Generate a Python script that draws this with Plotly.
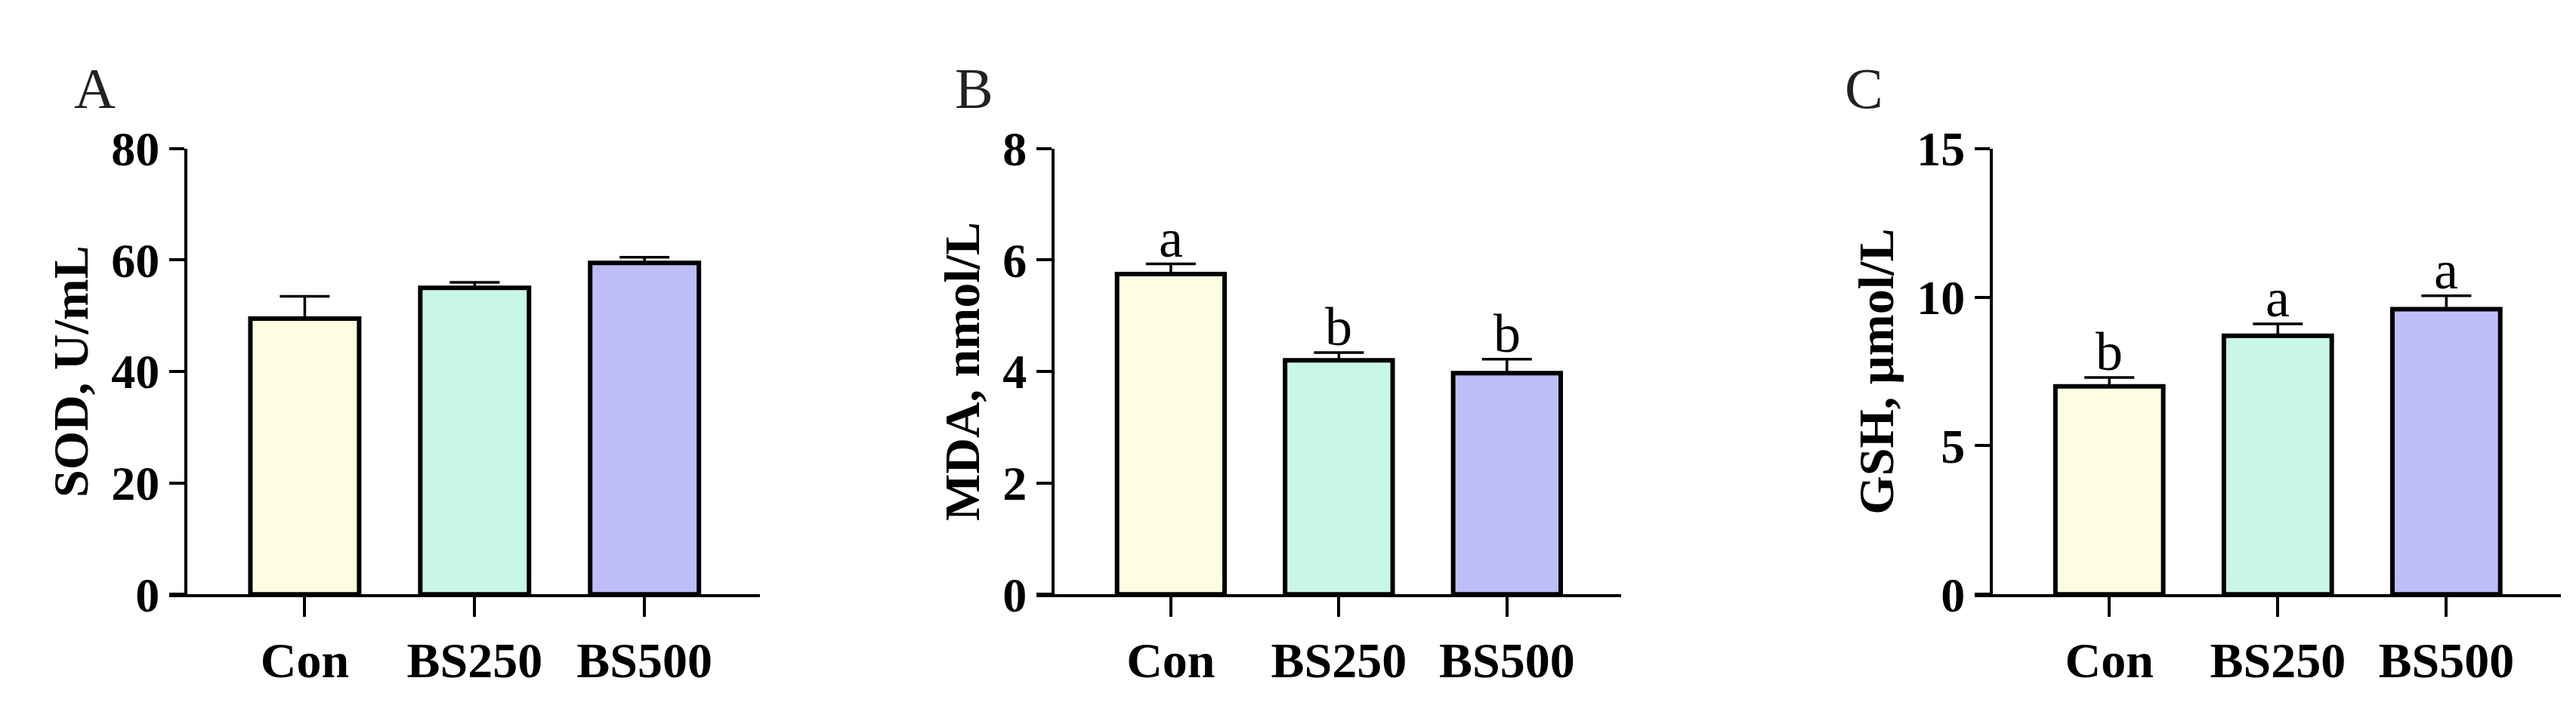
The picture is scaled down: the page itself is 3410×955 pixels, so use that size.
import plotly.graph_objects as go

groups = ["Con", "BS250", "BS500"]
colors = ["#FDFDE1", "#C9F7E5", "#BEBDF8"]

sod_mean = [49.5, 55.0, 59.5]
sod_err = [4.0, 1.0, 1.0]
mda_mean = [5.75, 4.2, 3.97]
mda_err = [0.18, 0.14, 0.25]
mda_sig = ["a", "b", "b"]
gsh_mean = [7.0, 8.7, 9.6]
gsh_err = [0.3, 0.4, 0.45]
gsh_sig = ["b", "a", "a"]

panels = [
    ("A", "SOD, U/mL", sod_mean, sod_err, None, [0, 80], [0, 20, 40, 60, 80]),
    ("B", "MDA, nmol/L", mda_mean, mda_err, mda_sig, [0, 8], [0, 2, 4, 6, 8]),
    ("C", "GSH, µmol/L", gsh_mean, gsh_err, gsh_sig, [0, 15], [0, 5, 10, 15]),
]
W = 3410
xdomains = [[0.0698, 0.2927], [0.4065, 0.627], [0.7707, 0.9918]]
letter_x = [88, 1254, 2432]
overhang = 22  # px the x axis line extends left of the y axis

fig = go.Figure()
FONT = "Liberation Serif"
for i, (lab, title, mean, err, sig, yr, tv) in enumerate(panels):
    n = "" if i == 0 else str(i + 1)
    d0, d1 = xdomains[i]
    wpx = (d1 - d0) * W
    r0, r1 = -0.7, 2.68
    upp = (r1 - r0) / wpx
    fig.add_trace(go.Bar(
        x=groups, y=mean, width=0.64,
        marker=dict(color=colors, line=dict(color="black", width=6)),
        error_y=dict(type="data", array=err, arrayminus=[0] * 3, symmetric=False,
                     color="black", thickness=3.5, width=33),
        xaxis="x" + n, yaxis="y" + n, showlegend=False))
    fig.layout["xaxis" + n] = dict(
        domain=[d0 - overhang / W, d1], anchor="y" + n,
        range=[r0 - overhang * upp, r1],
        showline=True, linecolor="black", linewidth=4, ticks="outside",
        ticklen=26, tickwidth=4, tickcolor="black", showgrid=False,
        tickfont=dict(family=FONT, size=66, color="black", weight="bold"))
    fig.layout["yaxis" + n] = dict(
        domain=[0.158, 0.826], anchor="free", position=d0, overlaying=None,
        range=yr, tickvals=tv,
        showline=True, linecolor="black", linewidth=4, ticks="outside",
        ticklen=20, tickwidth=4, tickcolor="black", showgrid=False, zeroline=False,
        tickfont=dict(family=FONT, size=64, color="black", weight="bold"),
        title=dict(text=title, standoff=8,
                   font=dict(family=FONT, size=66, color="black", weight="bold")))
    fig.add_annotation(text=lab, xref="paper", yref="paper", x=letter_x[i] / W,
                       y=1 - 80 / 955, showarrow=False, xanchor="left", yanchor="middle",
                       font=dict(family=FONT, size=76, color="#222"))
    if sig:
        for g, m, e, s in zip(groups, mean, err, sig):
            fig.add_annotation(text=s, x=g, y=m + e, xref="x" + n, yref="y" + n,
                               showarrow=False, yanchor="bottom", yshift=-8,
                               font=dict(family=FONT, size=72, color="black"))

fig.update_layout(width=W, height=955, margin=dict(l=0, r=0, t=0, b=0),
                  plot_bgcolor="white", paper_bgcolor="white", bargap=0.3)
fig.write_html("out.html")
